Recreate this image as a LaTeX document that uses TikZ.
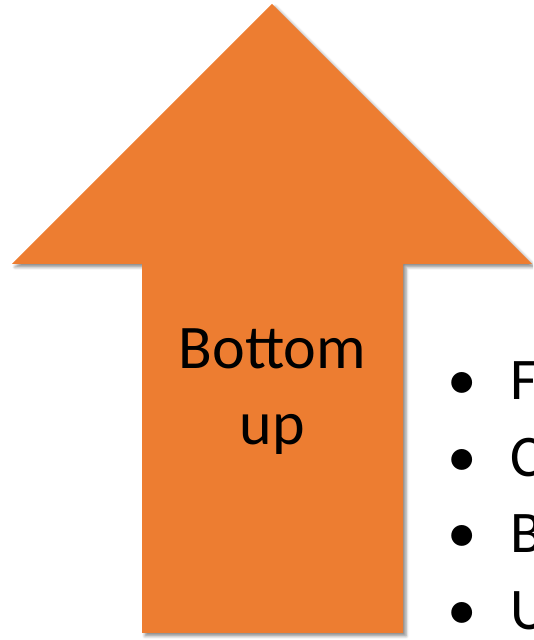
\documentclass[tikz,border=0pt]{standalone}
\usepackage{fontspec}
\setmainfont{Carlito}
\usetikzlibrary{shadows.blur}
\definecolor{arroworange}{HTML}{ED7D31}
\tikzset{
  arrowshape/.style={fill=arroworange, blur shadow={shadow xshift=3pt, shadow yshift=-3pt, shadow blur radius=3pt, shadow opacity=45}},
  bigtext/.style={font=\fontsize{62}{76}\selectfont, text=black, inner sep=0pt},
  listtext/.style={font=\fontsize{59}{72}\selectfont, text=black, inner sep=0pt, anchor=base west},
  bullettext/.style={font=\fontsize{59}{72}\selectfont, text=black, inner sep=0pt, anchor=base}
}
\begin{document}
\begin{tikzpicture}[x=1pt,y=1pt]
\useasboundingbox (0,0) rectangle (533,640);
\begin{scope}
\clip (0,0) rectangle (533,640);
\path[arrowshape] (272,636) -- (532,376) -- (403,376) -- (403,7) -- (142,7) -- (142,376) -- (12,376) -- cycle;
\node[bigtext, align=center] (label) at (272.5,248) {Bottom\\up};
\foreach \name/\letter/\yb in {f/F/240, c/C/163, b/B/87, u/U/10} {
  \node[bullettext] (bul\name) at (462,\yb) {•};
  \node[listtext] (item\name) at (510,\yb) {\letter};
}
\end{scope}
\end{tikzpicture}
\end{document}
